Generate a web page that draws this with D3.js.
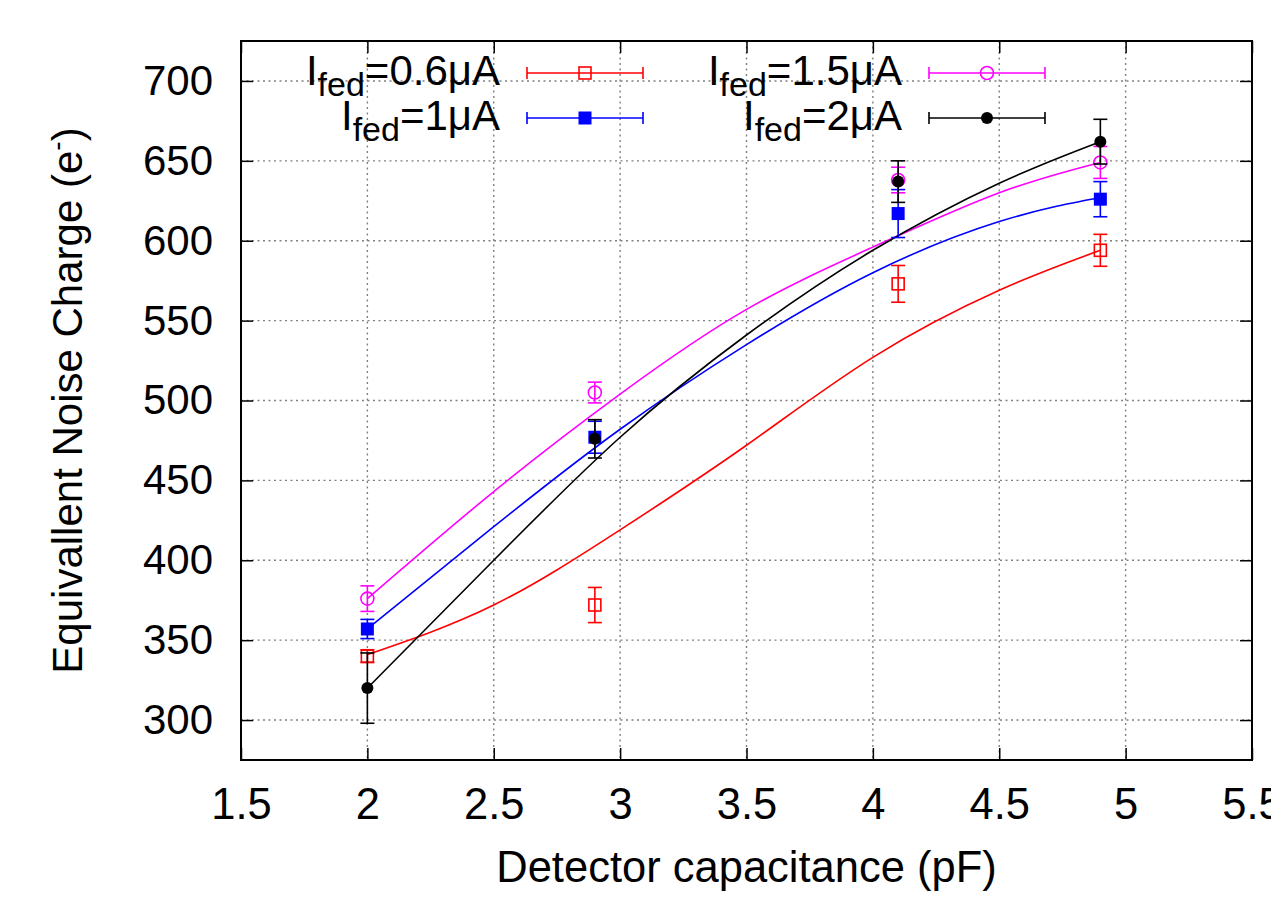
<!DOCTYPE html>
<html>
<head>
<meta charset="utf-8">
<script src="https://cdn.jsdelivr.net/npm/d3@7"></script>
<style>
  body { margin: 0; background: #fff; }
  svg { display: block; font-family: "Liberation Sans", Arial, sans-serif; }
</style>
</head>
<body>
<svg id="chart" width="1271" height="900"></svg>
<script>
'use strict';

// measured points (detector capacitance in pF)
const capX = [2.0, 2.9, 4.1, 4.9];
const enc06 = [340, 372, 573, 594];
const err06 = [4, 11, 11.5, 10];
const enc1 = [357, 477, 617, 626];
const err1 = [6, 10, 15, 11];
const enc15 = [376, 505, 638, 649];
const err15 = [8, 6.5, 8, 10];
const enc2 = [320, 476, 637, 662];
const err2 = [22, 12, 13, 14];

// fitted curves
const fitX = [2.0, 2.5, 3.0, 3.5, 4.0, 4.5, 4.9];
const fit06 = [341, 372, 419, 472, 527, 569, 594];
const fit1 = [357, 421, 482, 535, 580, 612, 627];
const fit15 = [376, 443, 504, 557, 596, 630, 649];
const fit2 = [320, 400, 477, 541, 594, 636, 662];

const xTicks = [1.5, 2, 2.5, 3, 3.5, 4, 4.5, 5, 5.5];
const yTicks = [300, 350, 400, 450, 500, 550, 600, 650, 700];
const seriesNames = ['0.6', '1', '1.5', '2'];

const plotL = 241, plotR = 1252, plotT = 41, plotB = 760;
const fontSize = 42;
const tickLen = 12;

const series = [
  {name: seriesNames[0], y: enc06, err: err06, fit: fit06, color: '#ff0000', marker: 'openSquare', col: 0, row: 0},
  {name: seriesNames[1], y: enc1, err: err1, fit: fit1, color: '#0000ff', marker: 'square', col: 0, row: 1},
  {name: seriesNames[2], y: enc15, err: err15, fit: fit15, color: '#ff00ff', marker: 'openCircle', col: 1, row: 0},
  {name: seriesNames[3], y: enc2, err: err2, fit: fit2, color: '#000000', marker: 'circle', col: 1, row: 1}
];

const svg = d3.select('#chart');
const x = d3.scaleLinear().domain([1.5, 5.5]).range([plotL, plotR]);
const y = d3.scaleLinear().domain([275, 725]).range([plotB, plotT]);

// grid
const grid = svg.append('g').attr('class', 'grid')
  .attr('stroke', '#808080').attr('stroke-width', 1.4).attr('stroke-dasharray', '2,3.5');
grid.selectAll('.gx').data(xTicks.filter(d => d > 1.5 && d < 5.5)).join('line')
  .attr('x1', d => x(d)).attr('x2', d => x(d)).attr('y1', plotT).attr('y2', plotB);
grid.selectAll('.gy').data(yTicks).join('line')
  .attr('y1', d => y(d)).attr('y2', d => y(d)).attr('x1', plotL).attr('x2', plotR);

// axes with inward ticks on all sides
function styleAxis(g, keepText) {
  g.select('.domain').remove();
  g.selectAll('.tick line').attr('stroke', '#000').attr('stroke-width', 1.5);
  if (!keepText) g.selectAll('.tick text').remove();
  g.selectAll('.tick text').attr('fill', '#000');
  g.attr('font-size', fontSize).attr('font-family', '"Liberation Sans", Arial, sans-serif');
}
svg.append('g').attr('transform', `translate(0,${plotB})`)
  .call(d3.axisBottom(x).tickValues(xTicks).tickSize(-tickLen).tickPadding(28).tickFormat(d3.format('')))
  .call(g => styleAxis(g, true))
  .call(g => g.selectAll('.tick text').attr('font-size', 43.5));
svg.append('g').attr('transform', `translate(0,${plotT})`)
  .call(d3.axisTop(x).tickValues(xTicks).tickSize(-tickLen))
  .call(g => styleAxis(g, false));
svg.append('g').attr('transform', `translate(${plotL},0)`)
  .call(d3.axisLeft(y).tickValues(yTicks).tickSize(-tickLen).tickPadding(28))
  .call(g => styleAxis(g, true));
svg.append('g').attr('transform', `translate(${plotR},0)`)
  .call(d3.axisRight(y).tickValues(yTicks).tickSize(-tickLen))
  .call(g => styleAxis(g, false));

// fit curves
const line = d3.line().x(d => x(d[0])).y(d => y(d[1])).curve(d3.curveNatural);
series.forEach(s => {
  svg.append('path')
    .attr('d', line(fitX.map((v, i) => [v, s.fit[i]])))
    .attr('fill', 'none')
    .attr('stroke', s.color)
    .attr('stroke-width', 1.6);
});

function drawMarker(g, type, color, cx, cy) {
  if (type === 'openSquare') {
    g.append('rect').attr('x', cx - 6).attr('y', cy - 6).attr('width', 12).attr('height', 12)
      .attr('fill', 'none').attr('stroke', color).attr('stroke-width', 1.6);
  } else if (type === 'square') {
    g.append('rect').attr('x', cx - 6.5).attr('y', cy - 6.5).attr('width', 13).attr('height', 13)
      .attr('fill', color);
  } else if (type === 'openCircle') {
    g.append('circle').attr('cx', cx).attr('cy', cy).attr('r', 6.5)
      .attr('fill', 'none').attr('stroke', color).attr('stroke-width', 1.6);
  } else {
    g.append('circle').attr('cx', cx).attr('cy', cy).attr('r', 6)
      .attr('fill', color);
  }
}

// data points with error bars
const capW = 7;
series.forEach(s => {
  const g = svg.append('g');
  capX.forEach((cx, i) => {
    const px = x(cx);
    const top = y(s.y[i] + s.err[i]);
    const bot = y(s.y[i] - s.err[i]);
    g.append('line').attr('x1', px).attr('x2', px).attr('y1', top).attr('y2', bot)
      .attr('stroke', s.color).attr('stroke-width', 1.6);
    [top, bot].forEach(yy => {
      g.append('line').attr('x1', px - capW).attr('x2', px + capW).attr('y1', yy).attr('y2', yy)
        .attr('stroke', s.color).attr('stroke-width', 1.6);
    });
    drawMarker(g, s.marker, s.color, px, y(s.y[i]));
  });
});

// frame
svg.append('rect')
  .attr('x', plotL).attr('y', plotT)
  .attr('width', plotR - plotL).attr('height', plotB - plotT)
  .attr('fill', 'none').attr('stroke', '#000').attr('stroke-width', 2);

// legend
const legTextX = [500, 902];
const legLineX = [527, 929];
const legLineW = 116;
const legRowY = [73, 118];
series.forEach(s => {
  const ly = legRowY[s.row];
  const lx = legLineX[s.col];
  const t = svg.append('text')
    .attr('x', legTextX[s.col]).attr('y', ly + 12)
    .attr('text-anchor', 'end')
    .attr('font-size', fontSize);
  t.append('tspan').text('I');
  t.append('tspan').attr('font-size', 34).attr('dy', 11).text('fed');
  t.append('tspan').attr('dy', -11).text(`=${s.name}\u03bcA`);

  const g = svg.append('g');
  g.append('line').attr('x1', lx).attr('x2', lx + legLineW).attr('y1', ly).attr('y2', ly)
    .attr('stroke', s.color).attr('stroke-width', 1.6);
  [lx, lx + legLineW].forEach(ex => {
    g.append('line').attr('x1', ex).attr('x2', ex).attr('y1', ly - 6).attr('y2', ly + 6)
      .attr('stroke', s.color).attr('stroke-width', 1.6);
  });
  drawMarker(g, s.marker, s.color, lx + legLineW / 2, ly);
});

// axis titles
svg.append('text')
  .attr('x', (plotL + plotR) / 2).attr('y', 882)
  .attr('text-anchor', 'middle')
  .attr('font-size', 43.5)
  .text('Detector capacitance (pF)');

const yt = svg.append('text')
  .attr('transform', `translate(82,${(plotT + plotB) / 2}) rotate(-90)`)
  .attr('text-anchor', 'middle')
  .attr('font-size', fontSize);
yt.append('tspan').text('Equivallent Noise Charge (e');
yt.append('tspan').attr('font-size', 28).attr('dy', -16).text('-');
yt.append('tspan').attr('dy', 16).text(')');
</script>
</body>
</html>
